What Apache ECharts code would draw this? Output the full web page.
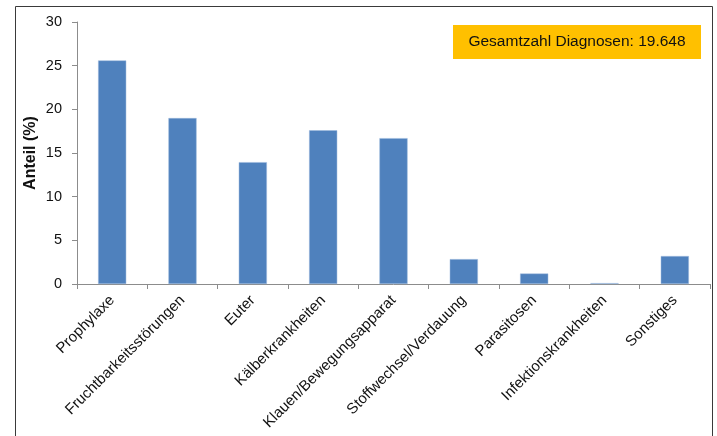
<!DOCTYPE html>
<html>
<head>
<meta charset="utf-8">
<script src="https://cdn.jsdelivr.net/npm/echarts@6/dist/echarts.min.js"></script>
<style>
  html, body { margin: 0; padding: 0; background: #fff; }
  #chart { width: 717px; height: 436px; }
</style>
</head>
<body>
<div id="chart"></div>
<script>
// Diagnosis groups and their share of all diagnoses (%)
const categories = [
  'Prophylaxe', 'Fruchtbarkeitsstörungen', 'Euter', 'Kälberkrankheiten',
  'Klauen/Bewegungsapparat', 'Stoffwechsel/Verdauung', 'Parasitosen',
  'Infektionskrankheiten', 'Sonstiges'
];
const shares = [25.6, 19.0, 13.95, 17.6, 16.7, 2.85, 1.2, 0.1, 3.2];
const yTicks = { min: 0, max: 30, interval: 5 };
const totalLabel = 'Gesamtzahl Diagnosen: 19.648';

const font = '"Liberation Sans", "DejaVu Sans", sans-serif';
const chart = echarts.init(document.getElementById('chart'), null, { renderer: 'canvas' });

chart.setOption({
  animation: false,
  grid: { left: 77, top: 22, right: 7, bottom: 152, containLabel: false },
  graphic: [
    {
      type: 'rect', left: 13, top: 4, z: -1,
      shape: { width: 697, height: 460 },
      style: { fill: 'none', stroke: '#3a3a3a', lineWidth: 1 }
    },
    {
      type: 'group', left: 453, top: 25,
      children: [
        { type: 'rect', shape: { width: 248, height: 34 }, style: { fill: '#FFC000' } },
        {
          type: 'text', x: 124, y: 17,
          style: { text: totalLabel, font: '15.5px ' + font, fill: '#111', align: 'center', verticalAlign: 'middle' }
        }
      ]
    }
  ],
  xAxis: {
    type: 'category',
    data: categories,
    axisLine: { lineStyle: { color: '#8c8c8c', width: 1 } },
    axisTick: { show: true, length: 5, lineStyle: { color: '#8c8c8c' } },
    axisLabel: {
      interval: 0, rotate: 45, margin: 14,
      fontFamily: font, fontSize: 15, color: '#111'
    }
  },
  yAxis: {
    type: 'value',
    min: yTicks.min, max: yTicks.max, interval: yTicks.interval,
    name: 'Anteil (%)',
    nameLocation: 'middle',
    nameGap: 38,
    nameMoveOverlap: false,
    nameTextStyle: { fontFamily: font, fontSize: 16, fontWeight: 'bold', color: '#111' },
    axisLine: { show: true, lineStyle: { color: '#8c8c8c', width: 1 } },
    axisTick: { show: true, length: 5, lineStyle: { color: '#8c8c8c' } },
    axisLabel: { margin: 15, fontFamily: font, fontSize: 14.5, color: '#111' },
    splitLine: { show: false }
  },
  series: [{
    type: 'bar',
    data: shares,
    barWidth: '40%',
    itemStyle: { color: '#4F81BD', borderColor: '#9db9dc', borderWidth: 0.5 }
  }]
});
</script>
</body>
</html>
